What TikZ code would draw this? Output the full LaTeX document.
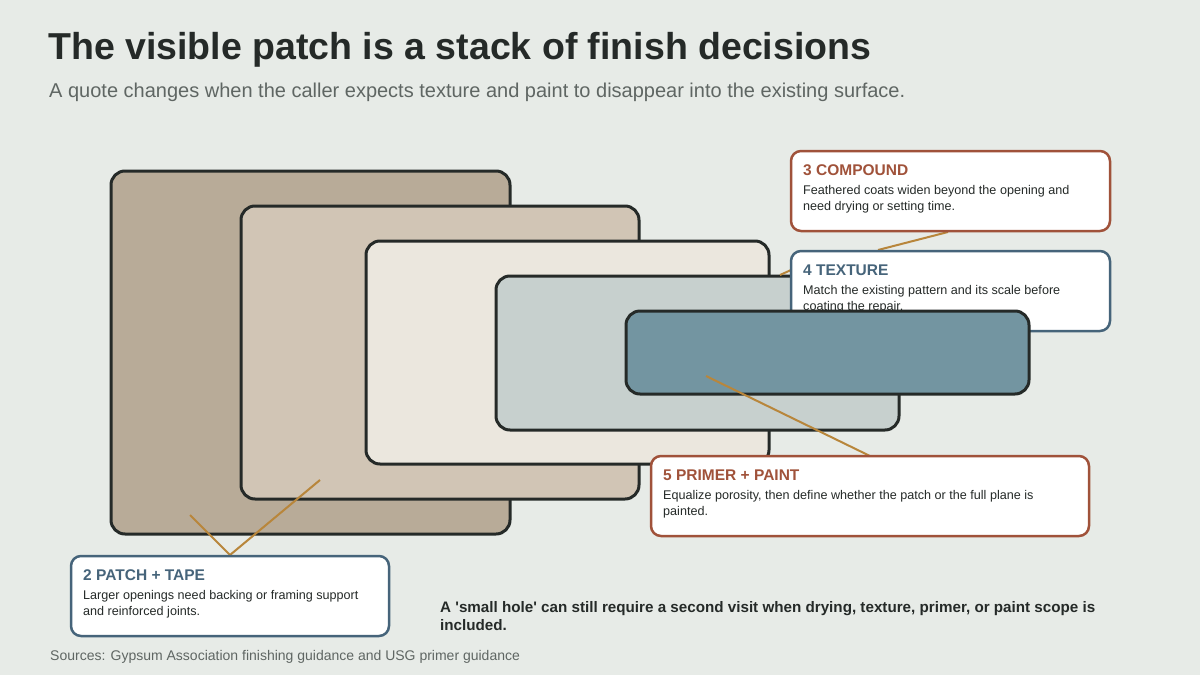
\documentclass[tikz,border=0pt]{standalone}
\usepackage{fontspec}
\setmainfont{Liberation Sans}
\usepackage{xcolor}
\definecolor{bg}{HTML}{E7EBE7}
\definecolor{ink}{HTML}{252A28}
\definecolor{grey}{HTML}{5F6663}
\definecolor{rust}{HTML}{A0523A}
\definecolor{slate}{HTML}{46647A}
\definecolor{gold}{HTML}{B8863B}
\definecolor{board}{HTML}{B8AB98}
\definecolor{tape}{HTML}{D1C5B5}
\definecolor{mud}{HTML}{EBE7DE}
\definecolor{texture}{HTML}{C7D0CE}
\definecolor{paint}{HTML}{7395A1}
\tikzset{
  layer/.style={draw=ink, line width=3pt, rounded corners=14pt},
  callout/.style={draw=#1, fill=white, line width=2.5pt, rounded corners=10pt},
  head/.style={anchor=west, inner sep=0pt, font=\bfseries\fontsize{15.5}{18}\selectfont, text=#1},
  body/.style={anchor=north west, inner sep=0pt, align=left, text=ink, font=\fontsize{12.6}{16.5}\selectfont},
  leader/.style={draw=gold, line width=2pt}
}
\begin{document}
\begin{tikzpicture}[x=1pt,y=-1pt]
\fill[bg] (0,0) rectangle (1200,675);
\useasboundingbox (0,0) rectangle (1200,675);
%Text
\node[anchor=west, inner sep=0pt, text=ink, font=\bfseries\fontsize{37.5}{42}\selectfont] (title) at (48,50) {The visible patch is a stack of finish decisions};
\node[anchor=west, inner sep=0pt, text=grey, font=\fontsize{20}{24}\selectfont] (subtitle) at (49,92) {A quote changes when the caller expects texture and paint to disappear into the existing surface.};
%layers
\draw[layer, fill=board] (111,171) rectangle (510,534);
\draw[layer, fill=tape] (241,206) rectangle (639,499);
\draw[layer, fill=mud] (366,241) rectangle (769,464);
\draw[layer, fill=texture] (496,276) rectangle (899,430);
%callouts 3, 4
\coordinate (p3) at (878,250);
\coordinate (c3) at (948,232);
\draw[leader] (c3) -- (p3);
\coordinate (p4) at (780,275);
\coordinate (c4) at (791,270);
\draw[leader] (p4) -- (c4);
\draw[callout=rust] (791,151) rectangle (1110,231);
\node[head=rust] (h3) at (803,170) {3 COMPOUND};
\node[body] (b3) at (803,185) {Feathered coats widen beyond the opening and\\need drying or setting time.};
\draw[callout=slate] (791,251) rectangle (1110,331);
\node[head=slate] (h4) at (803,270) {4 TEXTURE};
\node[body] (b4) at (803,285) {Match the existing pattern and its scale before\\coating the repair.};
%layer 5
\draw[layer, fill=paint] (626,311) rectangle (1029,394);
%callout 5
\coordinate (p5) at (706,376);
\coordinate (c5) at (870,456);
\draw[leader] (p5) -- (c5);
\draw[callout=rust] (651,456) rectangle (1089,536);
\node[head=rust] (h5) at (663,475) {5 PRIMER + PAINT};
\node[body] (b5) at (663,490) {Equalize porosity, then define whether the patch or the full plane is\\painted.};
%callout 2
\coordinate (p2a) at (190,515);
\coordinate (c2) at (230,555);
\coordinate (p2b) at (320,480);
\draw[leader] (p2a) -- (c2) -- (p2b);
\draw[callout=slate] (71,556) rectangle (389,636);
\node[head=slate] (h2) at (83,575) {2 PATCH + TAPE};
\node[body] (b2) at (83,590) {Larger openings need backing or framing support\\and reinforced joints.};
%note
\node[anchor=north west, inner sep=0pt, align=left, text=ink, font=\bfseries\fontsize{15.2}{18}\selectfont] (note) at (440,601) {A \textquotesingle small hole\textquotesingle{} can still require a second visit when drying, texture, primer, or paint scope is\\included.};
\node[anchor=west, inner sep=0pt, text=grey, font=\fontsize{14}{16}\selectfont] (src) at (50,657) {Sources: Gypsum Association finishing guidance and USG primer guidance};
\end{tikzpicture}
\end{document}
